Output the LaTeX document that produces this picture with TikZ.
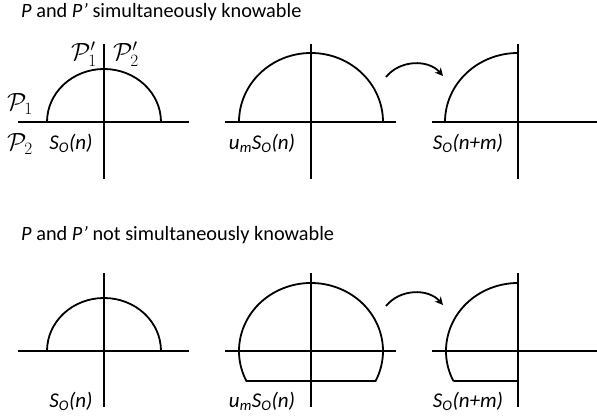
\documentclass[tikz,border=0pt]{standalone}
\usepackage{fontspec}
\setmainfont{Carlito}
\usepackage{amsmath,amssymb}
\usepackage{tikz}
\usetikzlibrary{arrows.meta}

\newcommand{\sO}{S\textsubscript{O}}

\begin{document}
\begin{tikzpicture}[x=1pt, y=1pt, font=\fontsize{20}{24}\selectfont,
  ax/.style={line width=2pt},
  curve/.style={line width=1.8pt},
  lbl/.style={inner sep=0pt, font=\fontsize{21}{24}\selectfont\itshape},
  ttl/.style={inner sep=0pt, anchor=west, font=\fontsize{20.3}{24}\selectfont},
  set/.style={inner sep=0pt, font=\fontsize{23}{26}\selectfont},
  jump/.style={line width=1.8pt, -{Stealth[length=8pt, width=8pt]}, bend left=50}]
  \useasboundingbox (0,0) rectangle (597,419);
  % titles
  \node[ttl] (t1) at (21,407) {\textit{P} and \textit{P’} simultaneously knowable};
  \node[ttl] (t2) at (21,184) {\textit{P} and \textit{P’} not simultaneously knowable};
  % axes
  \foreach \y/\lo/\hi in {297/240/375, 68/12/146} {
    \draw[ax] (18,\y) -- (189,\y);
    \draw[ax] (225,\y) -- (396,\y);
    \draw[ax] (432,\y) -- (597,\y);
    \foreach \x in {104,311,518} \draw[ax] (\x,\lo) -- (\x,\hi);
  }
  % upper row
  \draw[curve] (47,297) arc[start angle=180, end angle=0, x radius=57, y radius=53];
  \draw[curve] (239,297) arc[start angle=180, end angle=0, x radius=72, y radius=69];
  \draw[curve] (445,297) arc[start angle=180, end angle=90, x radius=73, y radius=69];
  % lower row
  \draw[curve] (47,68) arc[start angle=180, end angle=0, x radius=57, y radius=53];
  \draw[curve] (311,68) ++(206.2:72 and 68) arc[start angle=206.2, end angle=-26.2, x radius=72, y radius=68] -- cycle;
  \draw[curve] (518,68) ++(206.2:72 and 68) coordinate (cut)
    arc[start angle=206.2, end angle=90, x radius=72, y radius=68];
  \draw[curve] (cut) -- (518,38);
  % arrows
  \coordinate (a1) at (386,342);
  \coordinate (a2) at (443,343);
  \coordinate (b1) at (386,113);
  \coordinate (b2) at (443,114);
  \draw[jump] (a1) to (a2);
  \draw[jump] (b1) to (b2);
  % labels
  \node[set] (p1p) at (84,365) {$\mathcal{P}'_1$};
  \node[set] (p2p) at (126,365) {$\mathcal{P}'_2$};
  \node[set] (p1) at (20,315) {$\mathcal{P}_1$};
  \node[set] (p2) at (20,275) {$\mathcal{P}_2$};
  \node[lbl] (s1) at (71,276) {\sO(n)};
  \node[lbl] (s2) at (262,276) {u\textsubscript{m}\sO(n)};
  \node[lbl] (s3) at (468,276) {\sO(n+m)};
  \node[lbl] (s4) at (71,18) {\sO(n)};
  \node[lbl] (s5) at (262,18) {u\textsubscript{m}\sO(n)};
  \node[lbl] (s6) at (468,18) {\sO(n+m)};
\end{tikzpicture}
\end{document}
